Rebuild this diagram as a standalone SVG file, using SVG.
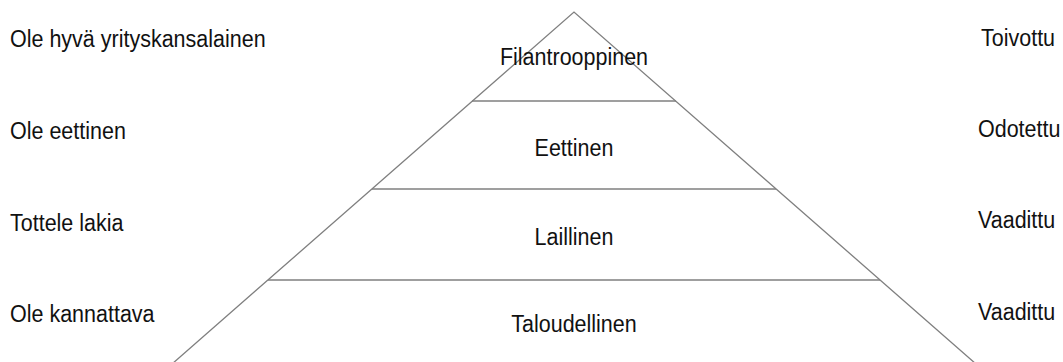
<svg xmlns="http://www.w3.org/2000/svg" width="1063" height="362" viewBox="0 0 1063 362">
<style>
.t{font-family:"Liberation Sans",Arial,sans-serif;font-size:21.5px;fill:#111}
.m{text-anchor:middle}
.edge{stroke:#7f7f7f;stroke-width:1.3;fill:none}
.sep{stroke:#7f7f7f;stroke-width:1.6;fill:none}
</style>
<rect width="1063" height="362" fill="#fff"/>
<g id="connectors">
<path class="edge" d="M172,364 L574,12 L976,364"/>
</g>
<g id="layer-filantrooppinen">
<text class="t m" transform="translate(574,65) scale(1,1.15)">Filantrooppinen</text>
</g>
<g id="layer-eettinen">
<line class="sep" x1="472" y1="101" x2="676" y2="101"/>
<text class="t m" transform="translate(574,156) scale(1,1.15)">Eettinen</text>
</g>
<g id="layer-laillinen">
<line class="sep" x1="372" y1="189" x2="776" y2="189"/>
<text class="t m" transform="translate(574,245) scale(1,1.15)">Laillinen</text>
</g>
<g id="layer-taloudellinen">
<line class="sep" x1="268" y1="280" x2="880" y2="280"/>
<text class="t m" transform="translate(574,332) scale(1,1.15)">Taloudellinen</text>
</g>
<g id="left-labels">
<text class="t" transform="translate(10,47) scale(1,1.15)">Ole hyvä yrityskansalainen</text>
<text class="t" transform="translate(10,139) scale(1,1.15)">Ole eettinen</text>
<text class="t" transform="translate(10,231) scale(1,1.15)">Tottele lakia</text>
<text class="t" transform="translate(10,322) scale(1,1.15)">Ole kannattava</text>
</g>
<g id="right-labels">
<text class="t" transform="translate(981,46) scale(1,1.15)">Toivottu</text>
<text class="t" transform="translate(978,137) scale(1,1.15)">Odotettu</text>
<text class="t" transform="translate(978,228) scale(1,1.15)">Vaadittu</text>
<text class="t" transform="translate(978,320) scale(1,1.15)">Vaadittu</text>
</g>
</svg>
